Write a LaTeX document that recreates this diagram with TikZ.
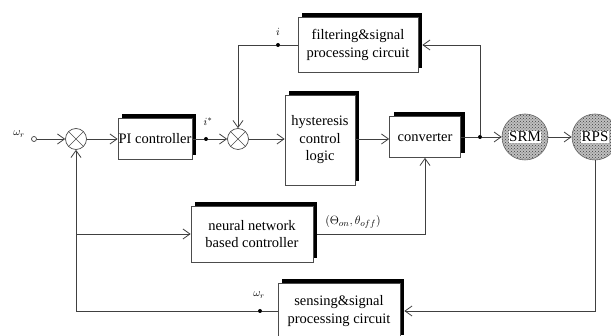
\documentclass[tikz,border=0pt]{standalone}
\usepackage{fontspec}
\setmainfont{Liberation Serif}
\usetikzlibrary{arrows.meta,shadows,patterns}
\begin{document}
\begin{tikzpicture}[x=1pt,y=-1pt,
  blk/.style={draw=black!70, line width=0.7pt, fill=white, align=center, inner sep=0pt,
    font=\fontsize{14.5}{17.5}\selectfont,
    drop shadow={shadow xshift=4pt, shadow yshift=4pt, opacity=1, fill=black}},
  sumj/.style={circle, draw=black!70, line width=0.7pt, fill=white, minimum size=21pt, inner sep=0pt,
    path picture={\draw[black!70, line width=0.6pt]
      (path picture bounding box.north west) -- (path picture bounding box.south east)
      (path picture bounding box.north east) -- (path picture bounding box.south west);}},
  mot/.style={circle, draw=black!60, line width=0.6pt, minimum size=46pt, inner sep=0pt,
    preaction={fill=black!25}, pattern=crosshatch dots, pattern color=black!75},
  mtxt/.style={fill=white, inner sep=0.5pt, font=\fontsize{15}{17}\selectfont},
  con/.style={draw=black!75, line width=0.8pt},
  arr/.style={con, -{Straight Barb[length=7pt, width=10pt]}},
  dot/.style={circle, fill=black, inner sep=0pt, minimum size=4pt},
  lbl/.style={inner sep=0pt, font=\fontsize{11}{13}\selectfont}]
\clip (0,0) rectangle (611,336);
\fill[white] (0,0) rectangle (611,336);

% blocks
\node[blk, minimum width=74pt, minimum height=41pt] (pi) at (155,139) {PI controller};
\node[blk, minimum width=120pt, minimum height=55pt] (fil) at (358,45) {filtering\&signal\\processing circuit};
\node[blk, minimum width=70pt, minimum height=90pt] (hys) at (320,140) {hysteresis\\control\\logic};
\node[blk, minimum width=71pt, minimum height=41pt] (conv) at (425,137) {converter};
\node[blk, minimum width=122pt, minimum height=56pt] (nn) at (252,234) {neural network\\based controller};
\node[blk, minimum width=122pt, minimum height=56pt] (sen) at (339,311) {sensing\&signal\\processing circuit};

% summing junctions
\node[sumj] (s1) at (76,139) {};
\node[sumj] (s2) at (238,139) {};

% motor and sensor
\node[mot] (srm) at (525,137) {};
\node[mtxt] (srmt) at (srm) {SRM};
\node[mot] (rps) at (595,137) {};
\node[mtxt] (rpst) at (rps) {RPS};

% input
\node[circle, draw=black!75, line width=0.7pt, inner sep=0pt, minimum size=5pt] (in) at (34,139) {};
\node[lbl] (wr1) at (19,134) {$\omega_r$};

% branch dots and labels
\node[dot] (d1) at (206,139) {};
\node[lbl] (istar) at (208,122) {$i^{*}$};
\node[dot] (d2) at (480,137) {};
\node[dot] (d3) at (278,45) {};
\node[lbl] (ilbl) at (278,32) {$i$};
\node[dot] (d4) at (260,311) {};
\node[lbl] (wr2) at (259,295) {$\omega_r$};
\node[lbl, font=\fontsize{13}{15}\selectfont] (ang) at (353,222) {$(\Theta_{on},\theta_{off})$};

% corner coordinates
\coordinate (c1) at (480,45);
\coordinate (c2) at (238,45);
\coordinate (c3) at (595,311);
\coordinate (c4) at (76,311);
\coordinate (c5) at (76,234);
\coordinate (c6) at (425,234);

% forward path
\draw[arr] (in) -- (s1);
\draw[arr] (s1) -- (pi.west |- s1);
\draw[con] (pi.east |- s1) -- (d1);
\draw[arr] (d1) -- (s2);
\draw[arr] (s2) -- (hys.west |- s2);
\draw[arr] (hys.east |- s2) -- (conv.west |- s2);
\draw[con] (conv.east |- d2) -- (d2);
\draw[arr] (d2) -- (srm);
\draw[arr] (srm) -- (rps);

% current feedback
\draw[arr] (d2) -- (c1) -- ([xshift=4pt]fil.east);
\draw[con] (fil.west) -- (d3);
\draw[arr] (d3) -- (c2) -- (s2);

% speed feedback
\draw[arr] (rps) -- (c3) -- ([xshift=4pt]sen.east |- c3);
\draw[con] (sen.west |- c3) -- (d4);
\draw[arr] (d4) -- (c4) -- (s1);
\draw[arr] (c5) -- (nn.west);
\draw[arr] ([xshift=4pt]nn.east) -- (c6) -- (conv);
\end{tikzpicture}
\end{document}
